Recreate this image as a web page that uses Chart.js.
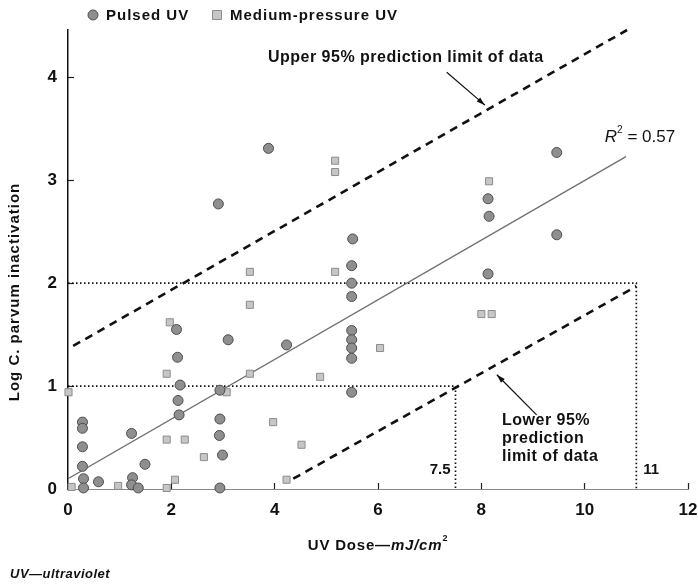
<!DOCTYPE html>
<html>
<head>
<meta charset="utf-8">
<script src="https://cdn.jsdelivr.net/npm/chart.js@4.4.1/dist/chart.umd.min.js"></script>
<style>
  html, body { margin: 0; padding: 0; background: #fff; }
</style>
</head>
<body>
<canvas id="myChart" width="698" height="585"></canvas>
<script>
// values (x = UV dose mJ/cm2, y = log inactivation)
const pulsedDose = [0.28, 0.28, 0.28, 0.28, 0.30, 0.30, 0.59, 1.23, 1.25, 1.23, 1.36, 1.49,
  2.10, 2.12, 2.17, 2.13, 2.15, 3.10, 2.94, 2.94, 2.93, 2.99, 2.94, 2.91, 3.88, 4.23,
  5.51, 5.49, 5.49, 5.49, 5.49, 5.49, 5.49, 5.49, 5.49, 9.46, 8.13, 8.15, 9.46, 8.13];
const pulsedLog = [0.65, 0.59, 0.41, 0.22, 0.10, 0.01, 0.07, 0.54, 0.11, 0.04, 0.01, 0.24,
  1.55, 1.28, 1.01, 0.86, 0.72, 1.45, 0.96, 0.68, 0.52, 0.33, 0.01, 2.77, 3.31, 1.40,
  2.43, 2.17, 2.00, 1.87, 1.54, 1.45, 1.37, 1.27, 0.94, 3.27, 2.82, 2.65, 2.47, 2.09];

const mediumDose = [0.01, 0.07, 0.97, 1.91, 2.26, 1.91, 2.07, 1.97, 1.91, 3.07, 2.63, 3.52,
  3.52, 3.52, 3.97, 4.23, 4.52, 5.17, 5.17, 5.17, 6.04, 4.88, 8.15, 8.0, 8.2];
const mediumLog = [0.94, 0.02, 0.03, 0.48, 0.48, 0.01, 0.09, 1.62, 1.12, 0.94, 0.31, 2.11,
  1.79, 1.12, 0.65, 0.09, 0.43, 3.19, 3.08, 2.11, 1.37, 1.09, 2.99, 1.70, 1.70];

const fitDose = [0, 10.8];
const fitLog = [0.1, 3.23];
const upperDose = [0.1, 10.82];
const upperLog = [1.39, 4.46];
const lowerDose = [4.36, 11];
const lowerLog = [0.1, 1.97];

// dotted reading guides: dose needed for 1 log and 2 log
const guideDose = [7.5, 11];
const guideLog = [1, 2];

const xTicks = [0, 2, 4, 6, 8, 10, 12];
const yTicks = [0, 1, 2, 3, 4];

const toPts = (xs, ys) => xs.map((x, i) => ({ x: x, y: ys[i] }));

const guideSets = guideDose.map((d, i) => ({
  label: 'guide' + i,
  data: [{ x: 0, y: guideLog[i] }, { x: d, y: guideLog[i] }, { x: d, y: 0 }],
  showLine: true,
  borderColor: '#111',
  borderWidth: 1.7,
  borderDash: [1.5, 2.5],
  pointRadius: 0,
  fill: false
}));

const FONT = '"Liberation Sans", Arial, sans-serif';

function drawParts(ctx, x, y, parts, align) {
  let w = 0;
  parts.forEach(p => { ctx.font = p.font; w += ctx.measureText(p.t).width; });
  let cx = align === 'center' ? x - w / 2 : x;
  parts.forEach(p => {
    ctx.font = p.font;
    ctx.fillText(p.t, cx, y + (p.dy || 0));
    cx += ctx.measureText(p.t).width;
  });
}

function arrow(ctx, x1, y1, x2, y2) {
  const a = Math.atan2(y2 - y1, x2 - x1);
  ctx.beginPath();
  ctx.moveTo(x1, y1);
  ctx.lineTo(x2, y2);
  ctx.stroke();
  ctx.beginPath();
  ctx.moveTo(x2, y2);
  ctx.lineTo(x2 - 9 * Math.cos(a - 0.3), y2 - 9 * Math.sin(a - 0.3));
  ctx.lineTo(x2 - 9 * Math.cos(a + 0.3), y2 - 9 * Math.sin(a + 0.3));
  ctx.closePath();
  ctx.fill();
}

const textPlugin = {
  id: 'texts',
  afterDraw(chart) {
    const ctx = chart.ctx;
    const xs = chart.scales.x, ys = chart.scales.y;
    const X = v => xs.getPixelForValue(v), Y = v => ys.getPixelForValue(v);
    ctx.save();
    ctx.fillStyle = '#111';
    ctx.strokeStyle = '#111';
    ctx.textBaseline = 'middle';

    // legend
    const ds = chart.data.datasets;
    ctx.letterSpacing = '1px';
    [[93, 0], [217, 1]].forEach(([lx, i]) => {
      ctx.fillStyle = ds[i].backgroundColor;
      ctx.strokeStyle = ds[i].borderColor;
      ctx.lineWidth = 1;
      ctx.beginPath();
      if (ds[i].pointStyle === 'rect') ctx.rect(lx - 4.5, 10.5, 9, 9);
      else ctx.arc(lx, 15, 5, 0, Math.PI * 2);
      ctx.fill();
      ctx.stroke();
      ctx.fillStyle = '#111';
      ctx.font = 'bold 15px ' + FONT;
      ctx.textAlign = 'left';
      ctx.fillText(ds[i].label, lx + 13, 16);
    });

    // axis titles
    ctx.save();
    ctx.translate(15, 292);
    ctx.rotate(-Math.PI / 2);
    ctx.textAlign = 'left';
    ctx.letterSpacing = '1px';
    drawParts(ctx, 0, 0, [
      { t: 'Log C. parvum inactivation', font: 'bold 15px ' + FONT }
    ], 'center');
    ctx.restore();

    ctx.textAlign = 'left';
    ctx.letterSpacing = '0.8px';
    drawParts(ctx, (chart.chartArea.left + chart.chartArea.right) / 2, 546, [
      { t: 'UV Dose\u2014', font: 'bold 15px ' + FONT },
      { t: 'mJ/cm', font: 'italic bold 15px ' + FONT },
      { t: '2', font: 'bold 9px ' + FONT, dy: -7 }
    ], 'center');

    ctx.fillStyle = '#111';
    ctx.letterSpacing = '0.5px';
    drawParts(ctx, 10, 574, [{ t: 'UV\u2014ultraviolet', font: 'italic bold 13px ' + FONT }], 'left');

    // annotations
    ctx.letterSpacing = '0.5px';
    ctx.font = 'bold 16px ' + FONT;
    ctx.textAlign = 'left';
    ctx.fillText('Upper 95% prediction limit of data', X(3.87), Y(4.19));
    ctx.lineWidth = 1.2;
    ctx.strokeStyle = '#111';
    arrow(ctx, X(7.33), Y(4.05), X(8.07), Y(3.73));

    ctx.letterSpacing = '0px';
    drawParts(ctx, X(10.39), Y(3.42), [
      { t: 'R', font: 'italic 17px ' + FONT },
      { t: '2', font: '10px ' + FONT, dy: -7 },
      { t: ' = 0.57', font: '17px ' + FONT }
    ], 'left');

    ctx.letterSpacing = '0.5px';
    ctx.font = 'bold 16px ' + FONT;
    ctx.textAlign = 'left';
    ['Lower 95%', 'prediction', 'limit of data'].forEach((s, i) => {
      ctx.fillText(s, X(8.40), Y(0.66) + i * 18);
    });
    arrow(ctx, X(9.07), Y(0.72), X(8.30), Y(1.11));

    ctx.letterSpacing = '0px';
    ctx.font = 'bold 15px ' + FONT;
    ctx.textAlign = 'right';
    ctx.fillText(String(guideDose[0]), X(guideDose[0]) - 5, Y(0.19));
    ctx.textAlign = 'left';
    ctx.fillText(String(guideDose[1]), X(guideDose[1]) + 7, Y(0.19));
    ctx.restore();
  }
};

const ctx = document.getElementById('myChart').getContext('2d');

const myChart = new Chart(ctx, {
  type: 'scatter',
  data: {
    datasets: [
      {
        label: 'Pulsed UV',
        data: toPts(pulsedDose, pulsedLog),
        pointStyle: 'circle',
        pointRadius: 5,
        backgroundColor: '#8f8f8f',
        borderColor: '#4d4d4d',
        borderWidth: 1,
        clip: false
      },
      {
        label: 'Medium-pressure UV',
        data: toPts(mediumDose, mediumLog),
        pointStyle: 'rect',
        pointRadius: 5,
        backgroundColor: '#c6c6c6',
        borderColor: '#8c8c8c',
        borderWidth: 1,
        clip: false
      },
      {
        label: 'fit',
        data: toPts(fitDose, fitLog),
        showLine: true,
        borderColor: '#6f6f6f',
        borderWidth: 1.3,
        pointRadius: 0
      },
      {
        label: 'upper',
        data: toPts(upperDose, upperLog),
        showLine: true,
        borderColor: '#111',
        borderWidth: 2.6,
        borderDash: [8, 6],
        pointRadius: 0,
        clip: false
      },
      {
        label: 'lower',
        data: toPts(lowerDose, lowerLog),
        showLine: true,
        borderColor: '#111',
        borderWidth: 2.6,
        borderDash: [8, 6],
        pointRadius: 0
      }
    ].concat(guideSets)
  },
  options: {
    responsive: false,
    animation: false,
    layout: { padding: { top: 30, right: 10, left: 0, bottom: 0 } },
    plugins: {
      legend: { display: false },
      tooltip: { enabled: false }
    },
    scales: {
      x: {
        type: 'linear',
        min: 0,
        max: 12,
        afterBuildTicks: s => { s.ticks = xTicks.map(v => ({ value: v })); },
        afterFit: s => { s.height = 96; s.paddingLeft = 0; s.paddingRight = 0; },
        border: { color: '#8a8a8a', width: 1, dash: [2, 2] },
        grid: { drawOnChartArea: false, tickLength: -6, tickColor: '#222', tickWidth: 1.2 },
        ticks: { color: '#111', padding: 17, font: { family: FONT, size: 17, weight: 'bold' } }
      },
      y: {
        min: 0,
        max: 4.46,
        afterBuildTicks: s => { s.ticks = yTicks.map(v => ({ value: v })); },
        afterFit: s => { s.width = 68; s.paddingTop = 0; s.paddingBottom = 0; },
        border: { color: '#111', width: 1.5 },
        grid: { drawOnChartArea: false, tickLength: -6, tickColor: '#222', tickWidth: 1.2 },
        ticks: { color: '#111', padding: 17, font: { family: FONT, size: 17, weight: 'bold' } }
      }
    }
  },
  plugins: [textPlugin]
});
</script>
</body>
</html>
